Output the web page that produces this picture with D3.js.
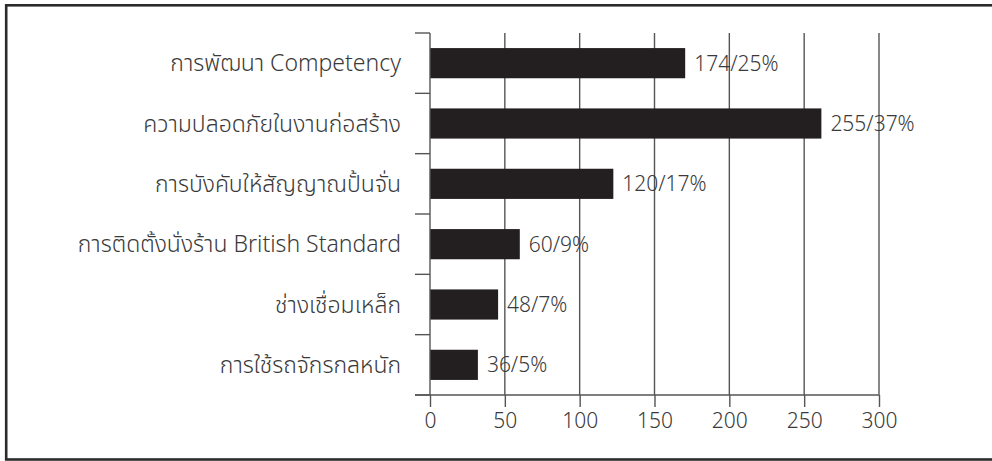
<!DOCTYPE html>
<html>
<head>
<meta charset="utf-8">
<script src="https://cdn.jsdelivr.net/npm/d3@7"></script>
<style>
  html, body { margin: 0; padding: 0; background: #fff; }
  svg text { font-family: "Noto Sans", "Noto Sans Thai", "Open Sans", sans-serif; font-weight: 300; fill: #3a3a3a; }
</style>
</head>
<body>
<div id="chart"></div>
<script>
'use strict';

// chart data
var categories = [
  'การพัฒนา Competency',
  'ความปลอดภัยในงานก่อสร้าง',
  'การบังคับให้สัญญาณปั้นจั่น',
  'การติดตั้งนั่งร้าน British Standard',
  'ช่างเชื่อมเหล็ก',
  'การใช้รถจักรกลหนัก'
];
var barValues = [170.5, 261.5, 122.5, 60, 45.5, 32];
var valueLabels = ['174/25%', '255/37%', '120/17%', '60/9%', '48/7%', '36/5%'];
var xTicks = [0, 50, 100, 150, 200, 250, 300];

var width = 992;
var height = 461;
var margin = {top: 33, left: 430, right: 113, bottom: 66};

var svg = d3.select('#chart')
            .append('svg')
            .attr('width', width)
            .attr('height', height);

// outer frame (right edge falls outside the picture)
svg.append('rect')
   .attr('x', 6.2)
   .attr('y', 5.3)
   .attr('width', 1010)
   .attr('height', 454.2)
   .attr('fill', 'none')
   .attr('stroke', '#2b2b2b')
   .attr('stroke-width', 2.6);

var x = d3.scaleLinear()
          .domain([0, 300])
          .range([margin.left, width - margin.right]);

var y = d3.scaleBand()
          .domain(categories)
          .range([margin.top, height - margin.bottom])
          .paddingInner(0.5)
          .paddingOuter(0.25);

var plotBottom = height - margin.bottom;

// vertical gridlines
svg.append('g')
   .selectAll('line')
   .data(xTicks.slice(1))
   .enter().append('line')
   .attr('x1', function(d){ return x(d); })
   .attr('x2', function(d){ return x(d); })
   .attr('y1', margin.top)
   .attr('y2', plotBottom)
   .attr('stroke', '#555')
   .attr('stroke-width', 1.4);

// bars
svg.append('g')
   .selectAll('rect')
   .data(barValues)
   .enter().append('rect')
   .attr('x', x(0))
   .attr('y', function(d, i){ return y(categories[i]); })
   .attr('width', function(d){ return x(d) - x(0); })
   .attr('height', y.bandwidth())
   .attr('fill', '#231f20');

// value labels
svg.append('g')
   .selectAll('text')
   .data(valueLabels)
   .enter().append('text')
   .attr('x', function(d, i){ return x(barValues[i]) + 9; })
   .attr('y', function(d, i){ return y(categories[i]) + y.bandwidth() / 2; })
   .attr('dy', '0.35em')
   .style('font-size', '21px')
   .text(function(d){ return d; });

// y axis: line plus ticks at band boundaries
var step = y.step();
var bounds = d3.range(categories.length + 1).map(function(i){ return margin.top + i * step; });

svg.append('line')
   .attr('x1', x(0)).attr('x2', x(0))
   .attr('y1', margin.top).attr('y2', plotBottom)
   .attr('stroke', '#555').attr('stroke-width', 1.4);

svg.append('g')
   .selectAll('line')
   .data(bounds)
   .enter().append('line')
   .attr('x1', x(0) - 15)
   .attr('x2', x(0))
   .attr('y1', function(d){ return d; })
   .attr('y2', function(d){ return d; })
   .attr('stroke', '#555')
   .attr('stroke-width', 1.4);

// category labels
svg.append('g')
   .selectAll('text')
   .data(categories)
   .enter().append('text')
   .attr('x', x(0) - 29)
   .attr('y', function(d){ return y(d) + y.bandwidth() / 2; })
   .attr('dy', '0.35em')
   .attr('text-anchor', 'end')
   .style('font-size', '23px')
   .text(function(d){ return d; });

// x axis
var xAxis = d3.axisBottom(x)
              .tickValues(xTicks)
              .tickSize(12)
              .tickPadding(6)
              .tickFormat(d3.format('d'));

var gx = svg.append('g')
            .attr('transform', 'translate(0,' + plotBottom + ')')
            .call(xAxis);
gx.select('.domain').remove();
gx.selectAll('.tick line').attr('stroke', '#555').attr('stroke-width', 1.4);
gx.selectAll('.tick text').style('font-size', '21px').attr('fill', '#3a3a3a');

svg.append('line')
   .attr('x1', x(0) - 15).attr('x2', x(300))
   .attr('y1', plotBottom).attr('y2', plotBottom)
   .attr('stroke', '#555').attr('stroke-width', 1.4);
</script>
</body>
</html>
